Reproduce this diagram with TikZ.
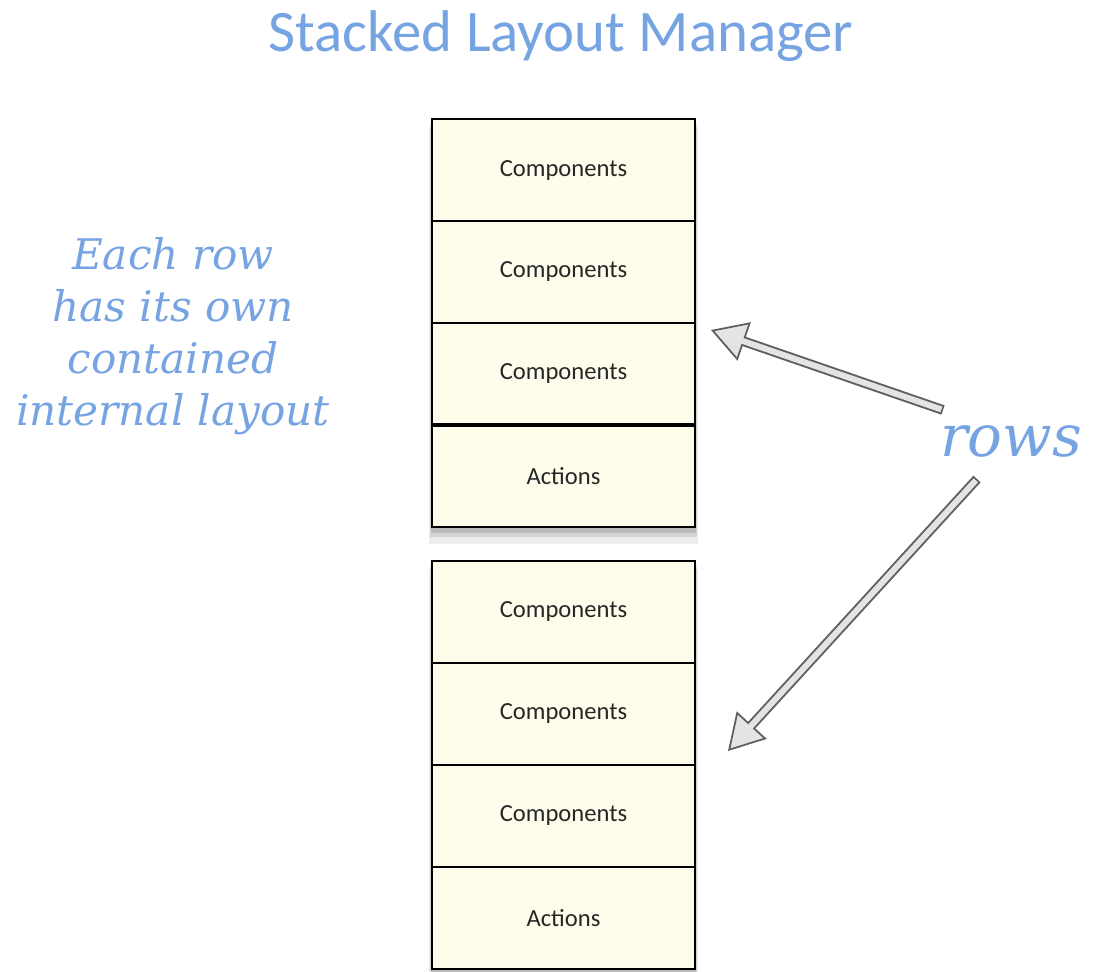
\documentclass[tikz,border=0pt]{standalone}
\usepackage{fontspec}
\setmainfont{Carlito}
\newfontfamily\notefont{DejaVu Serif}
\usetikzlibrary{arrows.meta, positioning, shadows, backgrounds}
\definecolor{noteblue}{RGB}{118,164,226}
\definecolor{rowfill}{RGB}{254,253,235}
\definecolor{arrowline}{RGB}{95,95,95}
\definecolor{arrowfill}{RGB}{228,228,228}
\tikzset{
    row/.style={rectangle, draw, line width=0.8pt, outer sep=0pt, fill=rowfill, minimum width=5.26cm, minimum height=2.04cm, inner sep=0pt, font=\fontsize{14}{17}\selectfont, text=black!85},
    frame_shadow/.style={fill=rowfill,
        drop shadow={shadow xshift=0pt, shadow yshift=-2pt, shadow scale=1.01, opacity=0.12, fill=black},
        drop shadow={shadow xshift=0pt, shadow yshift=-4pt, shadow scale=1.015, opacity=0.1, fill=black},
        drop shadow={shadow xshift=0pt, shadow yshift=-7pt, shadow scale=1.02, opacity=0.07, fill=black}},
    frame/.style={draw, line width=1.4pt},
    note/.style={text=noteblue, font=\notefont\itshape\fontsize{24}{29.5}\selectfont, align=center},
    arrow_out/.style={line width=5.6pt, draw=arrowline, -{Triangle[length=20pt, width=23pt, line width=1pt, fill=arrowfill]}},
    arrow_in/.style={line width=3.4pt, draw=arrowfill, shorten <=1pt, shorten >=18pt}
}
\begin{document}
\begin{tikzpicture}[x=0.02cm, y=-0.02cm, node distance=0cm]
\useasboundingbox (0,0) rectangle (1097,971);
\node (title) [text=noteblue, font=\fontsize{33.5}{40}\selectfont] at (561,36) {Stacked Layout Manager};

\node (t1) [row] at (563.5,170) {Components};
\node (t2) [row, below=of t1] {Components};
\node (t3) [row, below=of t2] {Components};
\node (t4) [row, below=of t3] {Actions};
\node (b1) [row, below=0.68cm of t4] {Components};
\node (b2) [row, below=of b1] {Components};
\node (b3) [row, below=of b2] {Components};
\node (b4) [row, below=of b3] {Actions};

\begin{scope}[on background layer]
\path [frame_shadow] (t1.north west) rectangle (t4.south east);
\path [frame_shadow] (b1.north west) rectangle (b4.south east);
\end{scope}
\draw [frame] (t1.north west) rectangle (t4.south east);
\draw [frame] (b1.north west) rectangle (b4.south east);
\draw [line width=2pt] (t4.north west) -- (t4.north east);

\node (note) [note] at (173,336) {Each row\\has its own\\contained\\internal layout};
\node (rows) [note, font=\notefont\itshape\fontsize{33}{40}\selectfont] at (1011,441) {rows};

\coordinate (tail1) at (943,410);
\coordinate (tip1) at (711,330);
\coordinate (tail2) at (977,479);
\coordinate (tip2) at (728,751);

\draw [arrow_out] (tail1) -- (tip1);
\draw [arrow_in] (tail1) -- (tip1);
\draw [arrow_out] (tail2) -- (tip2);
\draw [arrow_in] (tail2) -- (tip2);
\end{tikzpicture}
\end{document}
